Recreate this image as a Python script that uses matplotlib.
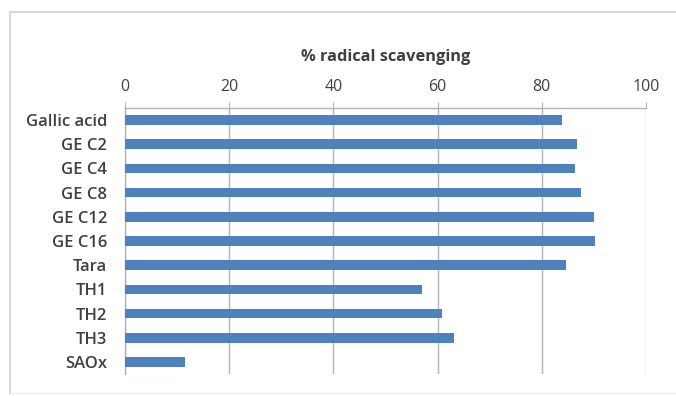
import matplotlib.pyplot as plt
from matplotlib.lines import Line2D

samples = ['Gallic acid', 'GE C2', 'GE C4', 'GE C8', 'GE C12', 'GE C16',
           'Tara', 'TH1', 'TH2', 'TH3', 'SAOx']
scavenging = [83.8, 86.7, 86.3, 87.6, 90.0, 90.2, 84.6, 57.1, 60.8, 63.1, 11.5]
x_ticks = [0, 20, 40, 60, 80, 100]

plt.rcParams['font.family'] = ['Open Sans', 'DejaVu Sans']
TEXT = '#404040'
GRID = '#b3b3b3'

fig = plt.figure(figsize=(6.76, 3.96), dpi=100)
ax = fig.add_axes([0.1849, 0.0556, 0.7707, 0.6717])

pos = range(len(samples))
ax.barh(pos, scavenging, height=0.4, color='#4F81BD', zorder=3)

ax.set_xlim(0, 100)
ax.set_ylim(len(samples) - 0.5, -0.5)
ax.set_yticks(list(pos))
ax.set_yticklabels(samples, fontsize=12, fontweight='semibold', color=TEXT)
ax.set_xticks(x_ticks)
ax.set_xticklabels([str(t) for t in x_ticks], fontsize=11.5, color=TEXT)

# value axis on top, like a reversed-category Excel bar chart
ax.xaxis.tick_top()
ax.xaxis.set_label_position('top')
ax.set_xlabel('% radical scavenging', fontsize=11.8, fontweight='bold',
              color=TEXT, labelpad=13)
ax.tick_params(axis='x', direction='out', length=4, width=0.8, color=GRID, pad=5)
ax.tick_params(axis='y', length=0, pad=13)

ax.grid(axis='x', color=GRID, linewidth=1.0, zorder=0)
for side in ['right', 'bottom']:
    ax.spines[side].set_visible(False)
for side in ['top', 'left']:
    ax.spines[side].set_color(GRID)
    ax.spines[side].set_linewidth(1.0)

# faint chart-area border
border = '#d9d9d9'
fig.add_artist(Line2D([10 / 676, 1], [1 - 12 / 396, 1 - 12 / 396],
                      transform=fig.transFigure, color=border, lw=1.5))
fig.add_artist(Line2D([10 / 676, 10 / 676], [1 - 12 / 396, 1 - 393 / 396],
                      transform=fig.transFigure, color=border, lw=1.5))
fig.add_artist(Line2D([10 / 676, 1], [1 - 393 / 396, 1 - 393 / 396],
                      transform=fig.transFigure, color='#eeeeee', lw=1.0))

fig.savefig('out.png', dpi=100)
